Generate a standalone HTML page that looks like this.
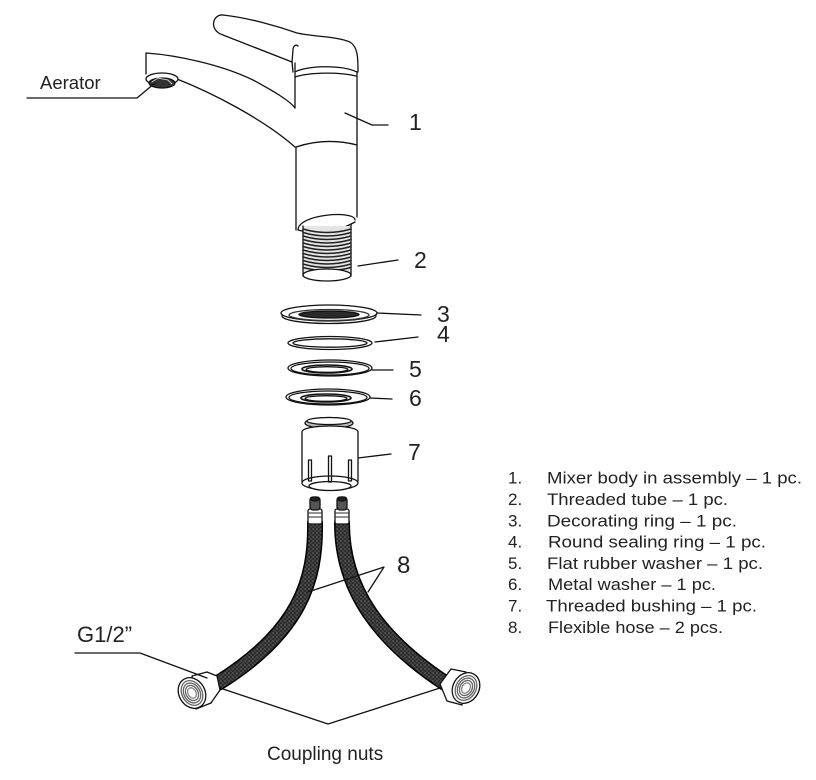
<!DOCTYPE html>
<html><head><meta charset="utf-8"><style>
html,body{margin:0;padding:0;background:#fff;}
svg{display:block;}
text{font-family:"Liberation Sans",Arial,sans-serif;fill:#222;}
</style></head><body>
<svg width="816" height="780" viewBox="0 0 816 780" xmlns="http://www.w3.org/2000/svg">
<defs>
<pattern id="br" width="4" height="4" patternUnits="userSpaceOnUse">
<rect width="4" height="4" fill="#2e2e2e"/>
<circle cx="1" cy="1" r="0.8" fill="#6a6a6a"/>
<circle cx="3" cy="3" r="0.8" fill="#555"/>
</pattern>
</defs>
<g fill="none" stroke="#111" stroke-width="1.3" stroke-linecap="round" stroke-linejoin="round">
<!-- handle -->
<path d="M223 15 C212 14 209 31 223 35 L292 62" />
<path d="M223 15 C250 18 280 27 297 33 C315 37 335 36 350 42 C358 47 358 58 358 72" />
<path d="M292 62 L293 72" />
<path d="M292 62 L293 50 C293 46 296 44 298 46" />
<path d="M295 72 C305 66 340 64 357 72" />
<path d="M295 77 C310 72 340 72 356 76" />
<!-- body -->
<path d="M295 63 L295 108" />
<path d="M357 72 L357 217" />
<!-- spout -->
<path d="M146 53 L146 74" />
<path d="M146 53 C175 55 220 64 253 80 C275 92 290 101 295 108" />
<path d="M177 79 C210 92 262 118 295 147" />
<path d="M296 147 Q326 137 357 145" />
<path d="M296 147 L296 230" />
<!-- aerator -->
<ellipse cx="162" cy="79" rx="16" ry="6" fill="#fff"/>
<ellipse cx="162" cy="83" rx="13" ry="5" fill="#333"/>
<path d="M152 82 L158 78 L168 80 L172 84" stroke="#ccc" stroke-width="1"/>
<!-- aerator leader -->
<path d="M27 98 L137 98 L155 83" />
<!-- label 1 leader -->
<path d="M345 113 L372 125 L388 125" />
<!-- body bottom ring -->
<path d="M298 230 C298 214 355 210 355 220" />
<path d="M298 230 Q326 238 355 222" />
<!-- threaded tube -->
<rect x="303" y="226" width="48" height="50" fill="#e4e4e4" stroke="none"/>
<path d="M303 226 L303 276 M351 224 L351 276" />
<g stroke="#222" stroke-width="1.5">
<path d="M303 229 Q327 236 351 229"/><path d="M303 232.5 Q327 239.5 351 232.5"/>
<path d="M303 236 Q327 243 351 236"/><path d="M303 239.5 Q327 246.5 351 239.5"/>
<path d="M303 243 Q327 250 351 243"/><path d="M303 246.5 Q327 253.5 351 246.5"/>
<path d="M303 250 Q327 257 351 250"/><path d="M303 253.5 Q327 260.5 351 253.5"/>
<path d="M303 257 Q327 264 351 257"/><path d="M303 260.5 Q327 267.5 351 260.5"/>
<path d="M303 264 Q327 271 351 264"/><path d="M303 267.5 Q327 274 351 267.5"/>
</g>
<ellipse cx="327" cy="275" rx="24" ry="6" fill="#fff"/>
<path d="M358 266 L398 260" />
<!-- ring 3 -->
<ellipse cx="329" cy="316" rx="47" ry="7.5" fill="#fff"/>
<ellipse cx="329" cy="313" rx="48" ry="8" fill="#fff"/>
<ellipse cx="329" cy="315" rx="40" ry="5.5" fill="#fff" stroke="#333"/>
<ellipse cx="329" cy="314.5" rx="30" ry="3.5" fill="#2a2a2a"/>
<path d="M377 313 L421 315" />
<!-- ring 4 -->
<ellipse cx="330" cy="343" rx="42" ry="6.5" fill="#fff"/>
<ellipse cx="330" cy="343" rx="37" ry="4.2" />
<path d="M375 342 L418 337" />
<!-- ring 5 -->
<ellipse cx="330" cy="368" rx="42" ry="8" fill="#fff"/>
<ellipse cx="330" cy="368.5" rx="39" ry="6.5" />
<ellipse cx="327" cy="369" rx="25" ry="4" stroke-width="1.6"/>
<ellipse cx="327" cy="369.5" rx="21" ry="2.8" />
<path d="M372 370 L393 370" />
<!-- ring 6 -->
<ellipse cx="328" cy="397" rx="42" ry="8" fill="#fff"/>
<ellipse cx="328" cy="397.5" rx="39" ry="6.5" />
<ellipse cx="326" cy="398" rx="25" ry="4" stroke-width="1.6"/>
<ellipse cx="326" cy="398.5" rx="21" ry="2.8" />
<path d="M370 398 L392 399" />
<!-- bushing 7 -->
<ellipse cx="329" cy="423" rx="24" ry="5.5" fill="#bbb"/>
<ellipse cx="329" cy="421" rx="22" ry="3.5" fill="#fff"/>
<path d="M302 432 C302 424 358 424 358 432" fill="#fff"/>
<path d="M302 432 L302 482 M358 432 L358 481" />
<ellipse cx="330" cy="483" rx="28" ry="7" fill="#fff"/>
<ellipse cx="330" cy="486" rx="21" ry="4.5" fill="#fff"/>
<path d="M308.5 460 L308.5 481 L311.5 481 L311.5 460 Z" />
<path d="M328.5 456 L328.5 482 L331.5 482 L331.5 456 Z" />
<path d="M348.5 460 L348.5 481 L351.5 481 L351.5 460 Z" />
<path d="M358 458 L391 454" />
<!-- hoses -->
<path d="M315 523 C316 580 300 632 218 683" stroke="#000" stroke-width="16"/>
<path d="M315 523 C316 580 300 632 218 683" stroke="url(#br)" stroke-width="13"/>
<path d="M342 523 C342 590 380 640 445 683" stroke="#000" stroke-width="16"/>
<path d="M342 523 C342 590 380 640 445 683" stroke="url(#br)" stroke-width="13"/>
<!-- hose fittings -->
<rect x="308" y="509" width="14" height="15" rx="2" fill="#fff"/>
<path d="M309 513 L321 513 M309 517 L321 517" stroke="#555"/>
<rect x="310" y="497" width="10" height="13" rx="3" fill="#555"/>
<ellipse cx="315" cy="499" rx="4" ry="2" fill="#222"/>
<rect x="335" y="509" width="14" height="15" rx="2" fill="#fff"/>
<path d="M336 513 L348 513 M336 517 L348 517" stroke="#555"/>
<rect x="337" y="497" width="10" height="13" rx="3" fill="#555"/>
<ellipse cx="342" cy="499" rx="4" ry="2" fill="#222"/>
<!-- left nut -->
<path d="M192 676 L207 672 L218 686 L211 703 L196 709 Z" fill="#fff"/>
<path d="M207 672 L217 676 L220 690 L211 703" fill="#fff"/>
<ellipse cx="192" cy="693" rx="13" ry="16" transform="rotate(-30 192 693)" fill="#fff"/>
<ellipse cx="192" cy="693" rx="10" ry="13" transform="rotate(-30 192 693)" stroke="#666"/>
<ellipse cx="192" cy="693" rx="8" ry="10.5" transform="rotate(-30 192 693)" stroke="#666"/>
<ellipse cx="192" cy="693" rx="6" ry="8" transform="rotate(-30 192 693)" stroke="#666"/>
<ellipse cx="192" cy="693" rx="4" ry="5.5" transform="rotate(-30 192 693)" stroke="#888"/>
<!-- right nut -->
<path d="M466 672 L451 669 L440 684 L447 701 L462 705 Z" fill="#fff"/>
<ellipse cx="466" cy="688" rx="13" ry="16" transform="rotate(30 466 688)" fill="#fff"/>
<ellipse cx="466" cy="688" rx="10" ry="13" transform="rotate(30 466 688)" stroke="#666"/>
<ellipse cx="466" cy="688" rx="8" ry="10.5" transform="rotate(30 466 688)" stroke="#666"/>
<ellipse cx="466" cy="688" rx="6" ry="8" transform="rotate(30 466 688)" stroke="#666"/>
<ellipse cx="466" cy="688" rx="4" ry="5.5" transform="rotate(30 466 688)" stroke="#888"/>
<!-- leaders -->
<path d="M308 592 L384 567 L368 592" />
<path d="M75 653 L140 653 L207 678" />
<path d="M220 688 L328 724 L440 688" />
</g>
<!-- labels -->
<text x="40" y="89" font-size="18.5">Aerator</text>
<text x="409" y="130" font-size="23">1</text>
<text x="414" y="268" font-size="23">2</text>
<text x="437" y="322" font-size="23">3</text>
<text x="437" y="342" font-size="23">4</text>
<text x="409" y="377" font-size="23">5</text>
<text x="409" y="406" font-size="23">6</text>
<text x="408" y="460" font-size="23">7</text>
<text x="397" y="573" font-size="24">8</text>
<text x="77" y="642" font-size="22">G1/2”</text>
<text x="267" y="760" font-size="19">Coupling nuts</text>
<g font-size="17">
<text x="508" y="483.5">1.</text><text x="547" y="483.5" textLength="255" lengthAdjust="spacingAndGlyphs">Mixer body in assembly – 1 pc.</text>
<text x="508" y="505">2.</text><text x="547" y="505" textLength="181" lengthAdjust="spacingAndGlyphs">Threaded tube – 1 pc.</text>
<text x="508" y="526.3">3.</text><text x="547" y="526.3" textLength="190" lengthAdjust="spacingAndGlyphs">Decorating ring – 1 pc.</text>
<text x="508" y="547.6">4.</text><text x="548" y="547.6" textLength="218" lengthAdjust="spacingAndGlyphs">Round sealing ring – 1 pc.</text>
<text x="508" y="569">5.</text><text x="547" y="569" textLength="216" lengthAdjust="spacingAndGlyphs">Flat rubber washer – 1 pc.</text>
<text x="508" y="590.2">6.</text><text x="548" y="590.2" textLength="168" lengthAdjust="spacingAndGlyphs">Metal washer – 1 pc.</text>
<text x="508" y="611.5">7.</text><text x="546" y="611.5" textLength="211" lengthAdjust="spacingAndGlyphs">Threaded bushing – 1 pc.</text>
<text x="508" y="632.8">8.</text><text x="548" y="632.8" textLength="175" lengthAdjust="spacingAndGlyphs">Flexible hose – 2 pcs.</text>
</g>
</svg>
</body></html>
